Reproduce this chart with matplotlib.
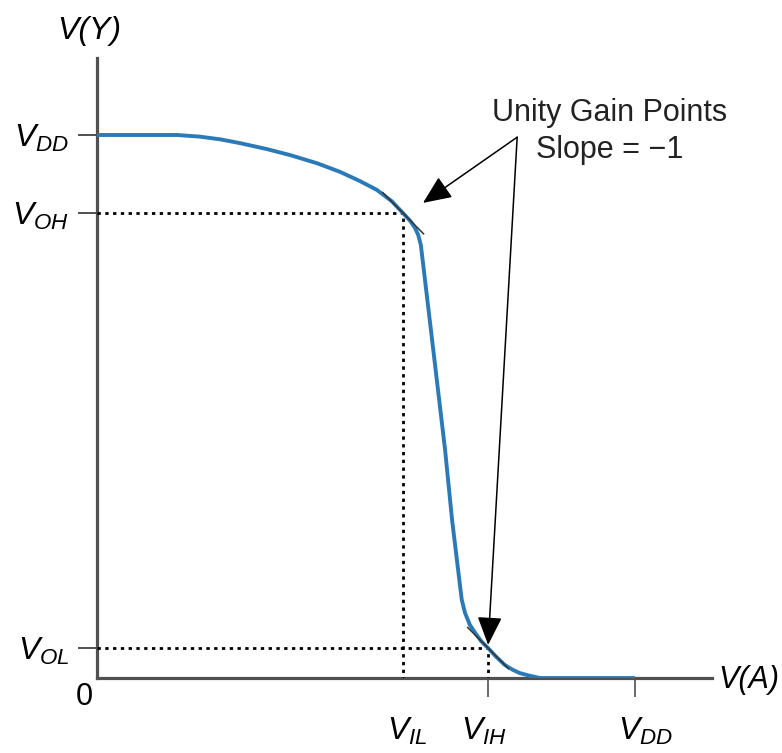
import matplotlib
matplotlib.use("Agg")
import matplotlib.pyplot as plt
from matplotlib.transforms import ScaledTranslation

plt.rcParams['font.family'] = ['Liberation Sans', 'DejaVu Sans']
plt.rcParams['mathtext.fontset'] = 'custom'
plt.rcParams['mathtext.it'] = 'Liberation Sans:italic'
plt.rcParams['mathtext.rm'] = 'Liberation Sans'
plt.rcParams['mathtext.default'] = 'it'

# ---- data (in units of VDD) ----
v_in = [0.0, 0.149, 0.191, 0.229, 0.266, 0.316, 0.359, 0.409, 0.452, 0.489,
        0.520, 0.548, 0.569, 0.582, 0.591, 0.597, 0.602, 0.624, 0.647, 0.660,
        0.675, 0.678, 0.684, 0.693, 0.703, 0.714, 0.727, 0.742, 0.758, 0.773,
        0.786, 0.805, 0.823, 1.0]
v_out = [1.0, 1.0, 0.997, 0.992, 0.985, 0.974, 0.963, 0.948, 0.932, 0.915,
         0.899, 0.878, 0.856, 0.842, 0.829, 0.816, 0.797, 0.613, 0.420, 0.291,
         0.168, 0.144, 0.120, 0.098, 0.083, 0.068, 0.055, 0.039, 0.024, 0.015,
         0.009, 0.004, 0.0, 0.0]

VDD = 1.0
VIL, VOH = 0.569, 0.856
VIH, VOL = 0.727, 0.055

y_ticks = [VOL, VOH, VDD]
y_labels = [r'$V_{OL}$', r'$V_{OH}$', r'$V_{DD}$']
x_ticks = [VIL, VIH, VDD]
x_labels = [r'$V_{IL}$', r'$V_{IH}$', r'$V_{DD}$']

W, H = 782, 753
fig = plt.figure(figsize=(W / 100, H / 100), dpi=100)
# origin at pixel (97, 678); 538 px per unit in x, 543 px per unit in y
ax = fig.add_axes([97 / W, (H - 678) / H, 615 / W, 620 / H])
ax.set_xlim(0, 615 / 538)
ax.set_ylim(0, 620 / 543)

axis_col = '#505050'
for s in ['top', 'right']:
    ax.spines[s].set_visible(False)
for s in ['left', 'bottom']:
    ax.spines[s].set_color(axis_col)
    ax.spines[s].set_linewidth(2.3)
    ax.spines[s].set_zorder(1)

ax.set_yticks(y_ticks)
ax.set_yticklabels(y_labels, fontsize=23)
ax.set_xticks(x_ticks)
ax.set_xticklabels(x_labels, fontsize=23)
ax.tick_params(axis='y', direction='out', length=14, width=1.4, color=axis_col, pad=6)
ax.tick_params(axis='x', direction='out', length=14, width=1.2, color=axis_col, pad=13)
ax.xaxis.get_major_ticks()[0].tick1line.set_visible(False)
# small horizontal nudges of x labels as in the reference
for lbl, dx in zip(ax.get_xticklabels(), [4, -4, 10]):
    lbl.set_transform(lbl.get_transform() + ScaledTranslation(dx / 100, 0, fig.dpi_scale_trans))

# dotted guide lines
dot = dict(color='black', lw=2.0, linestyle=(0, (1.2, 1.6)), zorder=2)
ax.plot([0, VIL, VIL], [VOH, VOH, 0], **dot)
ax.plot([0, VIH, VIH], [VOL, VOL, 0], **dot)

# transfer curve
ax.plot(v_in, v_out, color='#2a7ab9', lw=2.8, solid_capstyle='butt',
        solid_joinstyle='round', zorder=3)

# unity-gain tangent segments (slope -1)
h = 0.038
for (px, py) in [(VIL, VOH), (VIH, VOL)]:
    ax.plot([px - h, px + h], [py + h, py - h], color='#333333', lw=1.1, zorder=4)

# labels
ax.text(-0.024, -0.035, '0', fontsize=22, ha='center', va='center', clip_on=False)
ax.text(-0.015, 1.192, 'V(Y)', fontsize=23, style='italic', ha='center',
        va='center', clip_on=False)
ax.text(1.212, -0.004, 'V(A)', fontsize=22, style='italic', ha='center',
        va='center', clip_on=False)

ax.text(0.953, 1.040, 'Unity Gain Points', fontsize=22, ha='center',
        va='center', color='#222222', clip_on=False)
ax.text(0.953, 0.972, 'Slope = \u22121', fontsize=22, ha='center',
        va='center', color='#222222', clip_on=False)

start = (0.781, 0.996)
arrow = dict(arrowstyle='-|>,head_length=0.8,head_width=0.35', color='black',
             lw=1.1, shrinkA=0, shrinkB=0, mutation_scale=22)
ax.annotate('', xy=(0.606, 0.875), xytext=start, arrowprops=arrow,
            annotation_clip=False, zorder=5)
ax.annotate('', xy=(VIH, VOL + 0.006), xytext=start, arrowprops=arrow,
            annotation_clip=False, zorder=5)

fig.savefig('out.png', dpi=100)
